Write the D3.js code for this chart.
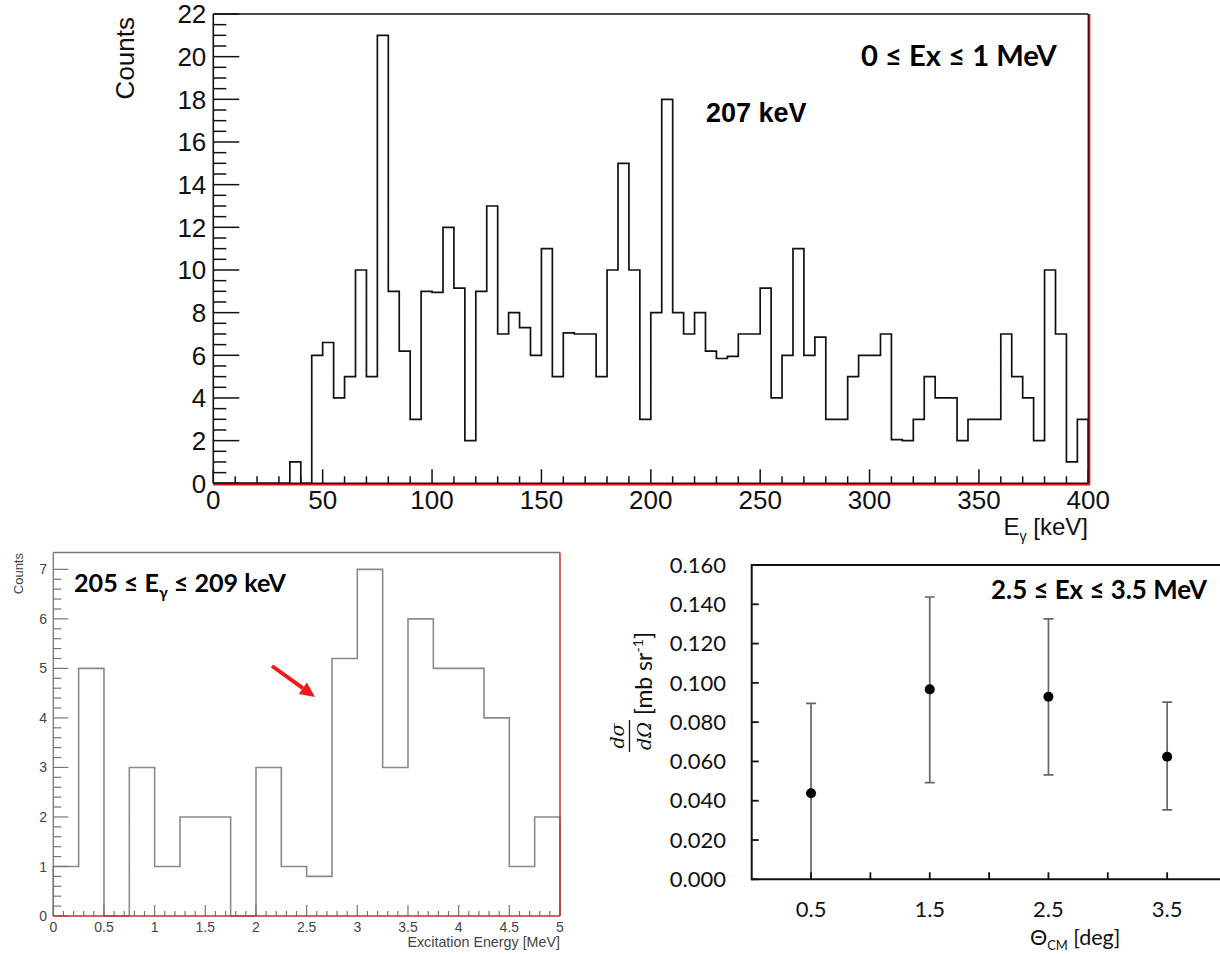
<!DOCTYPE html>
<html>
<head>
<meta charset="utf-8">
<script src="https://cdn.jsdelivr.net/npm/d3@7"></script>
<style>
  body { margin: 0; background: #fff; }
  svg { display: block; }
</style>
</head>
<body>
<svg id="fig" width="1220" height="954"></svg>
<script>
// ---- Gamma-ray spectrum, 0 <= Ex <= 1 MeV (5 keV bins from 0 keV) ----
const gammaBinWidth = 5;
const gammaCounts = [
  0, 0, 0, 0, 0, 0, 0, 1, 0, 6,
  6.6, 4, 5, 10, 5, 21, 9, 6.2, 3, 9,
  8.95, 12, 9.15, 2, 9, 13, 7, 8, 7.3, 6,
  11, 5, 7.05, 7, 7, 5, 10, 15, 10, 3,
  8, 18, 8, 7, 8, 6.2, 5.85, 5.95, 7, 7,
  9.15, 4, 6, 11, 6, 6.85, 3, 3, 5, 6,
  6, 7, 2.05, 2, 3, 5, 4, 4, 2, 3,
  3, 3, 7, 5, 4, 2, 10, 7, 1, 3
];
const gammaTicks = [0, 50, 100, 150, 200, 250, 300, 350, 400];
const countTicks = [0, 2, 4, 6, 8, 10, 12, 14, 16, 18, 20, 22];

// ---- Excitation-energy spectrum gated on 205-209 keV (0.25 MeV bins) ----
const exBinWidth = 0.25;
const exCounts = [1, 5, 0, 3, 1, 2, 2, 0, 3, 1, 0.8, 5.2, 7, 3, 6, 5, 5, 4, 1, 2];
const exTicks = [0, 0.5, 1, 1.5, 2, 2.5, 3, 3.5, 4, 4.5, 5];
const exTickLabels = ["0", "0.5", "1", "1.5", "2", "2.5", "3", "3.5", "4", "4.5", "5"];
const exCountTicks = [0, 1, 2, 3, 4, 5, 6, 7];

// ---- Differential cross section, 2.5 <= Ex <= 3.5 MeV ----
const thetaCM = [0.5, 1.5, 2.5, 3.5];
const xsec = [0.0438, 0.0967, 0.0929, 0.0624];
const xsecHigh = [0.0896, 0.1437, 0.1326, 0.0902];
const xsecLow = [-0.004, 0.0492, 0.0532, 0.0353];
const xsecTicks = [0, 0.02, 0.04, 0.06, 0.08, 0.10, 0.12, 0.14, 0.16];
const thetaTicks = [0.5, 1, 1.5, 2, 2.5, 3, 3.5, 4];
const thetaTickLabels = ["0.5", "1.5", "2.5", "3.5"];

const svg = d3.select("#fig");
const ROOT_FONT = "'Liberation Sans', Arial, sans-serif";
const OFFICE_FONT = "Lato, 'Open Sans', sans-serif";

// Scale a text element's font size so it spans the given width.
function fitWidth(sel, width) {
  const len = sel.node().getComputedTextLength();
  const fs = parseFloat(sel.attr("font-size"));
  sel.attr("font-size", (fs * width / len).toFixed(2));
  return sel;
}

// Outline of a histogram as a step line through the given scales.
function stepPoints(counts, bw, x, y) {
  const pts = [[x(0), y(0)]];
  counts.forEach((c, i) => {
    pts.push([x(i * bw), y(c)]);
    pts.push([x((i + 1) * bw), y(c)]);
  });
  pts.push([x(counts.length * bw), y(0)]);
  return pts;
}

// =================== Top panel ===================
{
  const x = d3.scaleLinear().domain([0, 400]).range([213.3, 1088.3]);
  const y = d3.scaleLinear().domain([0, 22]).range([483.3, 14]);
  const g = svg.append("g");

  g.append("path")
    .attr("d", d3.line()(stepPoints(gammaCounts, gammaBinWidth, x, y)))
    .attr("fill", "none").attr("stroke", "#111").attr("stroke-width", 1.7);

  // frame
  g.append("line").attr("x1", x(0)).attr("x2", x(400)).attr("y1", y(22)).attr("y2", y(22))
    .attr("stroke", "#111").attr("stroke-width", 1.6);
  g.append("line").attr("x1", x(0)).attr("x2", x(0)).attr("y1", y(0)).attr("y2", y(22))
    .attr("stroke", "#111").attr("stroke-width", 1.6);
  g.append("line").attr("x1", x(0)).attr("x2", x(400)).attr("y1", y(0)).attr("y2", y(0))
    .attr("stroke", "#111").attr("stroke-width", 1.4);
  g.append("line").attr("x1", x(400)).attr("x2", x(400)).attr("y1", y(0)).attr("y2", y(22))
    .attr("stroke", "#111").attr("stroke-width", 1.4);

  // y ticks: major every 2, minor every 0.5
  d3.range(0, 22.01, 0.5).forEach(v => {
    const major = Math.abs(v % 2) < 1e-6;
    g.append("line").attr("x1", x(0)).attr("x2", x(0) + (major ? 26 : 13))
      .attr("y1", y(v)).attr("y2", y(v)).attr("stroke", "#111").attr("stroke-width", 1.5);
  });
  // x ticks: major every 50, minor every 10
  d3.range(0, 401, 10).forEach(v => {
    const major = v % 50 === 0;
    g.append("line").attr("x1", x(v)).attr("x2", x(v))
      .attr("y1", y(0)).attr("y2", y(0) - (major ? 14 : 7)).attr("stroke", "#111").attr("stroke-width", 1.5);
  });

  // red frame edges on bottom and right
  g.append("line").attr("x1", x(0)).attr("x2", x(400) + 1.6).attr("y1", y(0) + 1.3).attr("y2", y(0) + 1.3)
    .attr("stroke", "#e01010").attr("stroke-width", 1.6);
  g.append("line").attr("x1", x(400) + 1.3).attr("x2", x(400) + 1.3).attr("y1", y(22)).attr("y2", y(0) + 1.3)
    .attr("stroke", "#e01010").attr("stroke-width", 1.6);

  g.selectAll(".yl").data(countTicks).enter().append("text")
    .attr("x", x(0) - 7).attr("y", d => y(d)).attr("dy", "0.36em")
    .attr("text-anchor", "end").attr("font-family", ROOT_FONT).attr("font-size", 26).attr("fill", "#111")
    .text(d => d);
  g.selectAll(".xl").data(gammaTicks).enter().append("text")
    .attr("x", d => x(d)).attr("y", 509)
    .attr("text-anchor", "middle").attr("font-family", ROOT_FONT).attr("font-size", 26).attr("fill", "#111")
    .text(d => d);

  g.append("text").attr("transform", "translate(134,17) rotate(-90)")
    .attr("text-anchor", "end").attr("font-family", ROOT_FONT).attr("font-size", 26).attr("fill", "#111")
    .text("Counts");

  const xt = g.append("text").attr("x", 1088).attr("y", 535).attr("text-anchor", "end")
    .attr("font-family", ROOT_FONT).attr("font-size", 24).attr("fill", "#111");
  xt.append("tspan").text("E");
  xt.append("tspan").attr("font-size", "0.6em").attr("dy", 6).text("γ");
  xt.append("tspan").attr("dy", -6).text(" [keV]");

  const t1 = g.append("text").attr("x", 861).attr("y", 65.5)
    .attr("font-family", OFFICE_FONT).attr("font-weight", 700).attr("font-size", 29).attr("fill", "#000")
    .text("0 ≤ Ex ≤ 1 MeV");
  fitWidth(t1, 196);

  g.append("text").attr("x", 706).attr("y", 121.5)
    .attr("font-family", ROOT_FONT).attr("font-weight", 700).attr("font-size", 27).attr("fill", "#000")
    .text("207 keV");
}

// =================== Bottom-left panel ===================
{
  const x = d3.scaleLinear().domain([0, 5]).range([53.3, 560]);
  const y = d3.scaleLinear().domain([0, 7.34]).range([916, 552.5]);
  const g = svg.append("g");
  const axisCol = "#777";

  g.append("path")
    .attr("d", d3.line()(stepPoints(exCounts, exBinWidth, x, y)))
    .attr("fill", "none").attr("stroke", "#8a8a8a").attr("stroke-width", 1.6);

  g.append("line").attr("x1", x(0)).attr("x2", x(5)).attr("y1", y(7.34)).attr("y2", y(7.34))
    .attr("stroke", axisCol).attr("stroke-width", 1.3);
  g.append("line").attr("x1", x(0)).attr("x2", x(0)).attr("y1", y(0)).attr("y2", y(7.34))
    .attr("stroke", axisCol).attr("stroke-width", 1.3);

  d3.range(0, 7.01, 0.2).forEach(v => {
    const major = Math.abs(v - Math.round(v)) < 1e-6;
    g.append("line").attr("x1", x(0)).attr("x2", x(0) + (major ? 15 : 8))
      .attr("y1", y(v)).attr("y2", y(v)).attr("stroke", axisCol).attr("stroke-width", 1.2);
  });
  d3.range(0, 5.001, 0.1).forEach(v => {
    const major = Math.abs(v * 2 - Math.round(v * 2)) < 1e-6;
    g.append("line").attr("x1", x(v)).attr("x2", x(v))
      .attr("y1", y(0)).attr("y2", y(0) - (major ? 11 : 5)).attr("stroke", axisCol).attr("stroke-width", 1.2);
  });

  g.append("line").attr("x1", x(0)).attr("x2", x(5)).attr("y1", y(0)).attr("y2", y(0))
    .attr("stroke", "#c83030").attr("stroke-width", 1.5);
  g.append("line").attr("x1", x(5)).attr("x2", x(5)).attr("y1", y(7.34)).attr("y2", y(0))
    .attr("stroke", "#c83030").attr("stroke-width", 1.5);

  g.selectAll(".yl").data(exCountTicks).enter().append("text")
    .attr("x", 47).attr("y", d => y(d)).attr("dy", "0.36em")
    .attr("text-anchor", "end").attr("font-family", ROOT_FONT).attr("font-size", 14).attr("fill", "#444")
    .text(d => d);
  g.selectAll(".xl").data(exTicks).enter().append("text")
    .attr("x", d => x(d)).attr("y", 932)
    .attr("text-anchor", "middle").attr("font-family", ROOT_FONT).attr("font-size", 14).attr("fill", "#444")
    .text((d, i) => exTickLabels[i]);

  g.append("text").attr("transform", "translate(23,553) rotate(-90)")
    .attr("text-anchor", "end").attr("font-family", ROOT_FONT).attr("font-size", 13).attr("fill", "#444")
    .text("Counts");
  g.append("text").attr("x", 560).attr("y", 947).attr("text-anchor", "end")
    .attr("font-family", ROOT_FONT).attr("font-size", 14.3).attr("fill", "#444")
    .text("Excitation Energy [MeV]");

  const t2 = g.append("text").attr("x", 74).attr("y", 591.5)
    .attr("font-family", OFFICE_FONT).attr("font-weight", 700).attr("font-size", 23).attr("fill", "#000");
  t2.append("tspan").text("205 ≤ E");
  t2.append("tspan").attr("font-size", "0.62em").attr("dy", 6).text("γ");
  t2.append("tspan").attr("dy", -6).text(" ≤ 209 keV");
  fitWidth(t2, 212);

  // red arrow pointing at the 2.5-2.75 MeV bin
  const a0 = [272, 666], a1 = [315, 697];
  const ang = Math.atan2(a1[1] - a0[1], a1[0] - a0[0]);
  const headLen = 15, headHalf = 7;
  const base = [a1[0] - headLen * Math.cos(ang), a1[1] - headLen * Math.sin(ang)];
  g.append("line").attr("x1", a0[0]).attr("y1", a0[1]).attr("x2", base[0]).attr("y2", base[1])
    .attr("stroke", "#f01818").attr("stroke-width", 4);
  g.append("polygon").attr("fill", "#f01818").attr("points", [
    a1,
    [base[0] + headHalf * Math.sin(ang), base[1] - headHalf * Math.cos(ang)],
    [base[0] - headHalf * Math.sin(ang), base[1] + headHalf * Math.cos(ang)]
  ].map(p => p.join(",")).join(" "));
}

// =================== Bottom-right panel ===================
{
  const x = d3.scaleLinear().domain([0, 4]).range([751.7, 1226.5]);
  const y = d3.scaleLinear().domain([0, 0.16]).range([879.3, 565]);
  const g = svg.append("g");

  svg.append("defs").append("clipPath").attr("id", "xsclip")
    .append("rect").attr("x", x(0)).attr("y", y(0.16)).attr("width", x(4) - x(0)).attr("height", y(0) - y(0.16));

  const marks = g.append("g").attr("clip-path", "url(#xsclip)");
  thetaCM.forEach((t, i) => {
    marks.append("line").attr("x1", x(t)).attr("x2", x(t)).attr("y1", y(xsecLow[i])).attr("y2", y(xsecHigh[i]))
      .attr("stroke", "#666").attr("stroke-width", 1.7);
    [xsecLow[i], xsecHigh[i]].forEach(v => {
      marks.append("line").attr("x1", x(t) - 5).attr("x2", x(t) + 5).attr("y1", y(v)).attr("y2", y(v))
        .attr("stroke", "#666").attr("stroke-width", 1.7);
    });
  });
  marks.selectAll("circle").data(thetaCM).enter().append("circle")
    .attr("cx", d => x(d)).attr("cy", (d, i) => y(xsec[i])).attr("r", 5).attr("fill", "#000");

  g.append("line").attr("x1", x(0)).attr("x2", 1220).attr("y1", y(0.16)).attr("y2", y(0.16))
    .attr("stroke", "#111").attr("stroke-width", 2);
  g.append("line").attr("x1", x(0)).attr("x2", 1220).attr("y1", y(0)).attr("y2", y(0))
    .attr("stroke", "#111").attr("stroke-width", 2);
  g.append("line").attr("x1", x(0)).attr("x2", x(0)).attr("y1", y(0) + 1).attr("y2", y(0.16) - 1)
    .attr("stroke", "#111").attr("stroke-width", 2);

  xsecTicks.forEach(v => {
    g.append("line").attr("x1", x(0)).attr("x2", x(0) + 7).attr("y1", y(v)).attr("y2", y(v))
      .attr("stroke", "#111").attr("stroke-width", 1.8);
  });
  thetaTicks.forEach(v => {
    g.append("line").attr("x1", x(v)).attr("x2", x(v)).attr("y1", y(0)).attr("y2", y(0) - 7)
      .attr("stroke", "#111").attr("stroke-width", 1.8);
  });

  g.selectAll(".yl").data(xsecTicks).enter().append("text")
    .attr("x", 726).attr("y", d => y(d)).attr("dy", "0.35em")
    .attr("text-anchor", "end").attr("font-family", OFFICE_FONT).attr("font-size", 22).attr("fill", "#111")
    .text(d => d3.format(".3f")(d));
  g.selectAll(".xl").data(thetaTickLabels).enter().append("text")
    .attr("x", d => x(+d)).attr("y", 917)
    .attr("text-anchor", "middle").attr("font-family", OFFICE_FONT).attr("font-size", 22).attr("fill", "#111")
    .text(d => d);

  const xl = g.append("text").attr("x", 1030).attr("y", 945)
    .attr("font-family", OFFICE_FONT).attr("font-size", 21.5).attr("fill", "#111");
  xl.append("tspan").text("Θ");
  xl.append("tspan").attr("font-size", "0.6em").attr("dy", 5).text("CM");
  xl.append("tspan").attr("dy", -5).text(" [deg]");

  // y label: d sigma / d Omega [mb sr^-1], rotated
  const yl = g.append("g").attr("transform", "translate(629,752) rotate(-90)");
  yl.append("text").attr("x", 16).attr("y", -5).attr("text-anchor", "middle")
    .attr("font-family", "'DejaVu Serif', 'Liberation Serif', serif").attr("font-style", "italic")
    .attr("font-size", 19).attr("fill", "#111").text("dσ");
  yl.append("line").attr("x1", 0).attr("x2", 32).attr("y1", 0.5).attr("y2", 0.5)
    .attr("stroke", "#111").attr("stroke-width", 1.3);
  yl.append("text").attr("x", 16).attr("y", 22).attr("text-anchor", "middle")
    .attr("font-family", "'DejaVu Serif', 'Liberation Serif', serif").attr("font-style", "italic")
    .attr("font-size", 19).attr("fill", "#111").text("dΩ");
  const unit = yl.append("text").attr("x", 37).attr("y", 23)
    .attr("font-family", OFFICE_FONT).attr("font-size", 23).attr("fill", "#111");
  unit.append("tspan").text("[mb sr");
  unit.append("tspan").attr("font-size", "0.62em").attr("dy", -9).text("-1");
  unit.append("tspan").attr("dy", 9).text("]");

  const t3 = g.append("text").attr("x", 991).attr("y", 599)
    .attr("font-family", OFFICE_FONT).attr("font-weight", 700).attr("font-size", 23).attr("fill", "#000")
    .text("2.5 ≤ Ex ≤ 3.5 MeV");
  fitWidth(t3, 216);
}
</script>
</body>
</html>
